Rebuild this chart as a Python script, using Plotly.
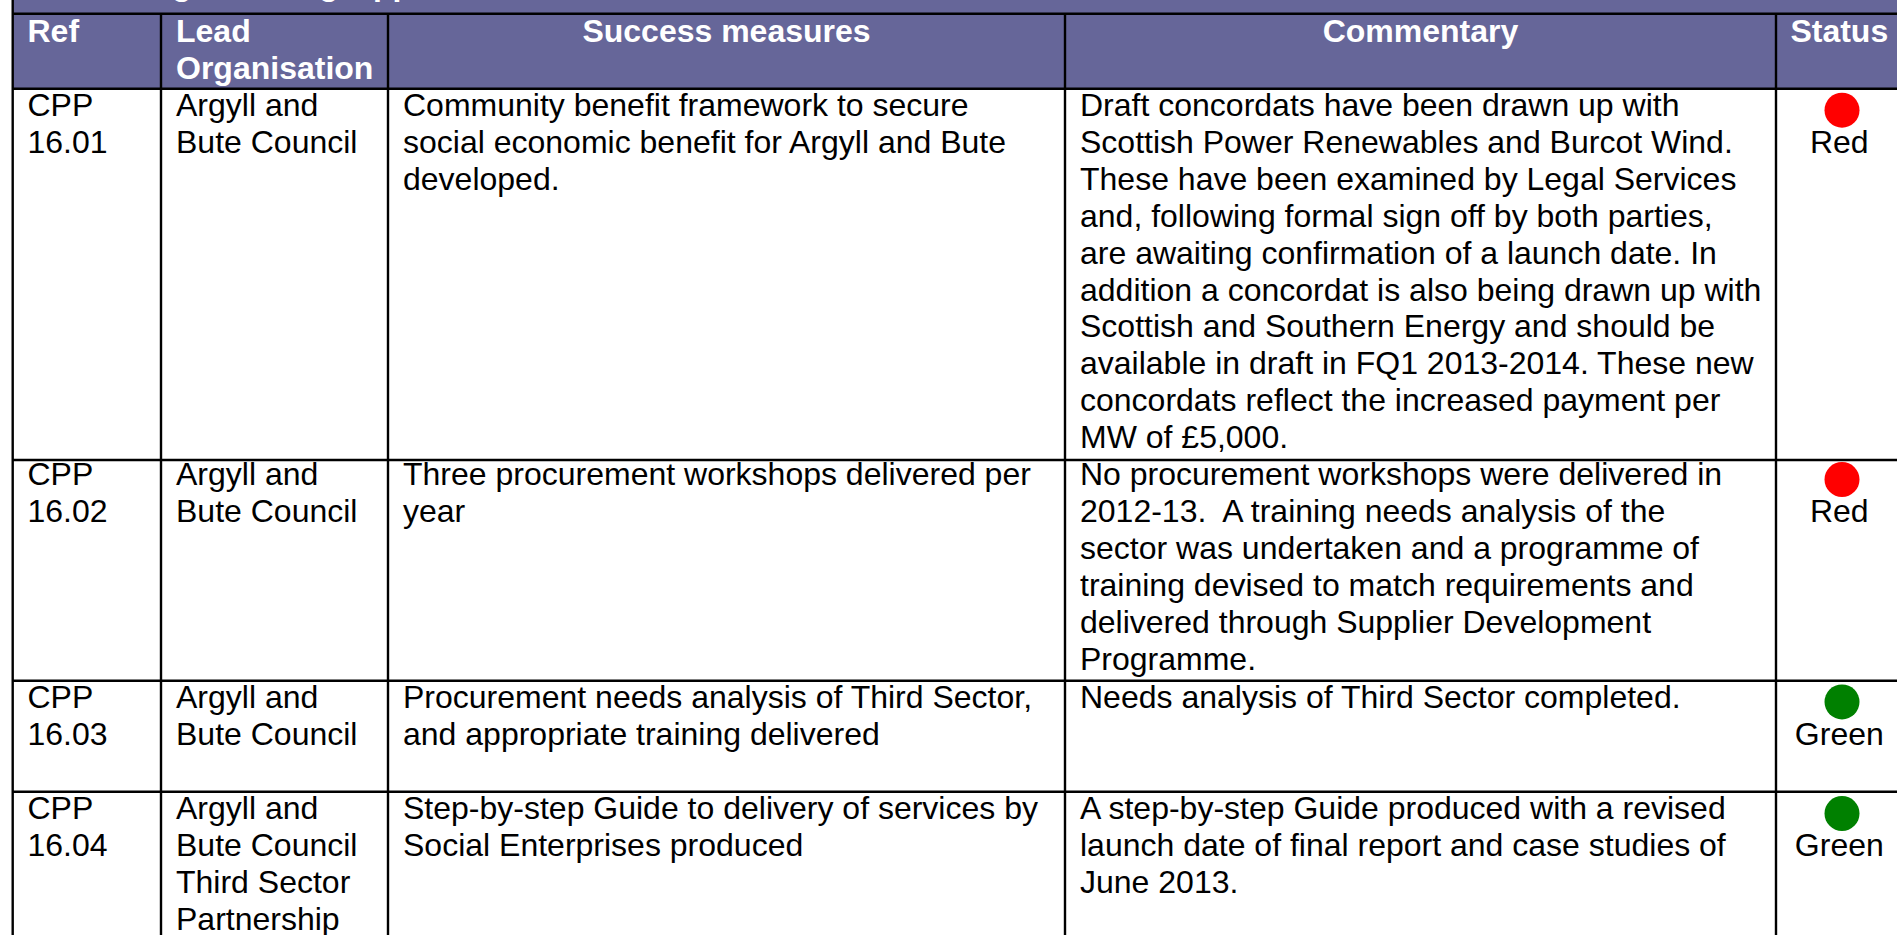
import plotly.graph_objects as go

# ---- table content ----
HEADERS = ["Ref", "Lead\nOrganisation", "Success measures", "Commentary", "Status"]
REF = ["CPP\n16.01", "CPP\n16.02", "CPP\n16.03", "CPP\n16.04"]
LEAD = [
    "Argyll and\nBute Council",
    "Argyll and\nBute Council",
    "Argyll and\nBute Council",
    "Argyll and\nBute Council\nThird Sector\nPartnership",
]
MEASURES = [
    "Community benefit framework to secure\nsocial economic benefit for Argyll and Bute\ndeveloped.",
    "Three procurement workshops delivered per\nyear",
    "Procurement needs analysis of Third Sector,\nand appropriate training delivered",
    "Step-by-step Guide to delivery of services by\nSocial Enterprises produced",
]
COMMENTARY = [
    "Draft concordats have been drawn up with\nScottish Power Renewables and Burcot Wind.\n"
    "These have been examined by Legal Services\nand, following formal sign off by both parties,\n"
    "are awaiting confirmation of a launch date. In\naddition a concordat is also being drawn up with\n"
    "Scottish and Southern Energy and should be\navailable in draft in FQ1 2013-2014. These new\n"
    "concordats reflect the increased payment per\nMW of £5,000.",
    "No procurement workshops were delivered in\n2012-13.\u00a0 A training needs analysis of the\n"
    "sector was undertaken and a programme of\ntraining devised to match requirements and\n"
    "delivered through Supplier Development\nProgramme.",
    "Needs analysis of Third Sector completed.",
    "A step-by-step Guide produced with a revised\nlaunch date of final report and case studies of\nJune 2013.",
]
STATUS = ["Red", "Red", "Green", "Green"]
STATUS_COLOURS = {"Red": "#ff0000", "Green": "#008000"}

# ---- layout grid (page pixels on the axes) ----
W, H = 1897, 935
COL_EDGES = [12.7, 161, 388, 1065, 1776]
ROW_EDGES = [13.7, 88.7, 460, 680.7, 791.7]
TEXT_X = [27.5, 176, 403, 1080]
STATUS_TEXT_X = 1839.3
DOT_X = 1842
FIRST_LINE = [108, 477.3, 699.7, 811.3]   # centre of first text line per row
HEADER_LINE = 33.6
PITCH = 36.9
DOT_DROP = 2.2
FONT = "Liberation Sans"
SIZE = 32
PURPLE = "#666699"
LINE_W = 2.4

fig = go.Figure()

shapes = [dict(type="rect", x0=COL_EDGES[0], x1=W, y0=0, y1=ROW_EDGES[1], fillcolor=PURPLE, line_width=0, layer="below")]
for x in COL_EDGES:
    y0 = 0 if x == COL_EDGES[0] else ROW_EDGES[0]
    shapes.append(dict(type="line", x0=x, x1=x, y0=y0, y1=H, line=dict(color="black", width=LINE_W)))
for y in ROW_EDGES:
    shapes.append(dict(type="line", x0=COL_EDGES[0], x1=W, y0=y, y1=y, line=dict(color="black", width=LINE_W)))

# body text
tx, ty, tt = [], [], []
for col, left in zip([REF, LEAD, MEASURES, COMMENTARY], TEXT_X):
    for r, cell in enumerate(col):
        for i, line in enumerate(cell.split("\n")):
            tx.append(left); ty.append(FIRST_LINE[r] + i * PITCH); tt.append(line)
fig.add_trace(go.Scatter(x=tx, y=ty, text=tt, mode="text", textposition="middle right",
                         textfont=dict(family=FONT, size=SIZE, color="black"), hoverinfo="skip"))

# status labels and dots
fig.add_trace(go.Scatter(x=[STATUS_TEXT_X] * 4, y=[y + PITCH for y in FIRST_LINE], text=STATUS, mode="text",
                         textposition="middle center",
                         textfont=dict(family=FONT, size=SIZE, color="black"), hoverinfo="skip"))
fig.add_trace(go.Scatter(x=[DOT_X] * 4, y=[y + DOT_DROP for y in FIRST_LINE], mode="markers",
                         marker=dict(size=35, color=[STATUS_COLOURS[s] for s in STATUS], line_width=0),
                         hoverinfo="skip"))

# header text
centres = [(COL_EDGES[2] + COL_EDGES[3]) / 2, (COL_EDGES[3] + COL_EDGES[4]) / 2, STATUS_TEXT_X]
fig.add_trace(go.Scatter(x=centres, y=[HEADER_LINE] * 3, text=HEADERS[2:], mode="text", textposition="middle center",
                         textfont=dict(family=FONT, size=SIZE, color="white", weight="bold"), hoverinfo="skip"))
lx, ly, lt = [], [], []
for j in range(2):
    for i, line in enumerate(HEADERS[j].split("\n")):
        lx.append(TEXT_X[j]); ly.append(HEADER_LINE + i * PITCH); lt.append(line)
fig.add_trace(go.Scatter(x=lx, y=ly, text=lt, mode="text", textposition="middle right",
                         textfont=dict(family=FONT, size=SIZE, color="white", weight="bold"), hoverinfo="skip"))

# descenders of the cropped title row: only the tails of these glyphs are visible
fig.add_trace(go.Scatter(x=[172, 319, 373], y=[-13.5, -13.5, -13.5], text=["g", "g", "pp"], mode="text",
                         textposition="middle right", cliponaxis=True,
                         textfont=dict(family=FONT, size=SIZE, color="white", weight="bold"), hoverinfo="skip"))

fig.update_layout(width=W, height=H, margin=dict(l=0, r=0, t=0, b=0), showlegend=False,
                  paper_bgcolor="white", plot_bgcolor="white", shapes=shapes,
                  xaxis=dict(range=[0, W], visible=False, fixedrange=True),
                  yaxis=dict(range=[H, 0], visible=False, fixedrange=True))
fig.write_html("out.html", post_script="document.body.style.margin='0';document.body.style.overflow='hidden';",
               config=dict(displayModeBar=False))
